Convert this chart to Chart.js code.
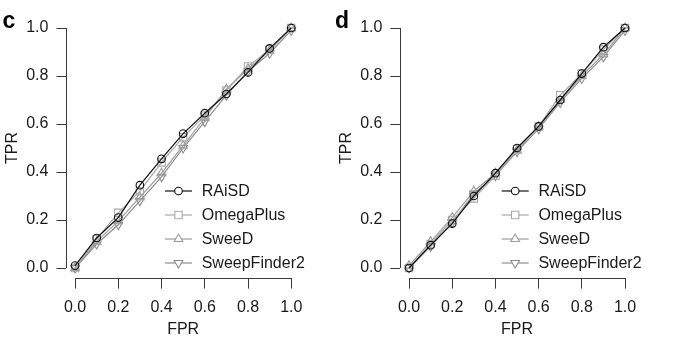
<!DOCTYPE html>
<html>
<head>
<meta charset="utf-8">
<script src="https://cdn.jsdelivr.net/npm/chart.js@4.4.1/dist/chart.umd.min.js"></script>
<style>
    html, body { margin: 0; padding: 0; background: #fff; }
    #wrap { position: relative; width: 690px; height: 341px; overflow: hidden; }
    #wrap canvas { position: absolute; top: 0; }
</style>
</head>
<body>
<div id="wrap">
    <canvas id="panelC" width="345" height="341" style="left:0px"></canvas>
    <canvas id="panelD" width="356" height="341" style="left:334px"></canvas>
</div>
<script>
// ROC curves, TPR vs FPR, markers every 0.1
const FPR = [0.0, 0.1, 0.2, 0.3, 0.4, 0.5, 0.6, 0.7, 0.8, 0.9, 1.0];
const TICKS = [0.0, 0.2, 0.4, 0.6, 0.8, 1.0];
const METHODS = ['RAiSD', 'OmegaPlus', 'SweeD', 'SweepFinder2'];

// panel c
const raisdC        = [0.01, 0.125, 0.21, 0.345, 0.455, 0.56, 0.645, 0.725, 0.815, 0.915, 1.0];
const omegaPlusC    = [0.0, 0.12, 0.23, 0.32, 0.44, 0.545, 0.635, 0.74, 0.84, 0.91, 1.0];
const sweeDC        = [0.0, 0.11, 0.195, 0.295, 0.395, 0.51, 0.625, 0.745, 0.83, 0.905, 1.0];
const sweepFinder2C = [0.0, 0.10, 0.18, 0.28, 0.38, 0.50, 0.61, 0.72, 0.82, 0.895, 0.99];

// panel d
const raisdD        = [0.0, 0.095, 0.185, 0.30, 0.395, 0.50, 0.59, 0.70, 0.81, 0.92, 1.0];
const omegaPlusD    = [0.0, 0.10, 0.20, 0.29, 0.385, 0.495, 0.59, 0.72, 0.81, 0.91, 1.0];
const sweeDD        = [0.01, 0.11, 0.21, 0.32, 0.395, 0.49, 0.59, 0.70, 0.80, 0.89, 1.0];
const sweepFinder2D = [0.0, 0.09, 0.19, 0.31, 0.385, 0.485, 0.58, 0.69, 0.79, 0.88, 0.99];

const FAMILY = '"Liberation Sans", Arial, Helvetica, sans-serif';
const FONT = { family: FAMILY, size: 16 };
const TEXT = '#1a1a1a';
const AXIS = '#3a3a3a';

const STYLE = {
    RAiSD:        { color: '#111111', point: 'circle',   radius: 3.8, rot: 0 },
    OmegaPlus:    { color: '#a8a8a8', point: 'rect',     radius: 5.2, rot: 0 },
    SweeD:        { color: '#9c9c9c', point: 'triangle', radius: 5.0, rot: 0 },
    SweepFinder2: { color: '#8e8e8e', point: 'triangle', radius: 5.0, rot: 180 },
};

// R-style decorations: axis lines only over 0..1, panel letter, legend
const panelDecor = {
    id: 'panelDecor',
    afterDraw(chart, args, opts) {
        const { ctx, chartArea, scales: { x, y } } = chart;
        ctx.save();
        ctx.strokeStyle = AXIS;
        ctx.lineWidth = 1;
        ctx.beginPath();
        ctx.moveTo(x.getPixelForValue(0), Math.round(chartArea.bottom) + 0.5);
        ctx.lineTo(x.getPixelForValue(1), Math.round(chartArea.bottom) + 0.5);
        ctx.moveTo(Math.round(chartArea.left) + 0.5, y.getPixelForValue(0));
        ctx.lineTo(Math.round(chartArea.left) + 0.5, y.getPixelForValue(1));
        ctx.stroke();

        // legend: line, marker in the middle, label
        const lx = chartArea.left + opts.legendLeft;
        chart.data.datasets.forEach((ds, i) => {
            const ly = opts.legendTop + i * opts.legendStep;
            ctx.strokeStyle = ds.borderColor;
            ctx.lineWidth = ds.borderWidth;
            ctx.beginPath();
            ctx.moveTo(lx, ly);
            ctx.lineTo(lx + 27, ly);
            ctx.stroke();
            ctx.fillStyle = '#ffffff';
            ctx.strokeStyle = ds.pointBorderColor;
            ctx.lineWidth = ds.pointBorderWidth;
            Chart.helpers.drawPoint(ctx, {
                pointStyle: ds.pointStyle,
                rotation: ds.pointRotation,
                radius: ds.pointRadius,
                borderWidth: ds.pointBorderWidth,
            }, lx + 13.5, ly);
            ctx.fillStyle = TEXT;
            ctx.font = '16px ' + FAMILY;
            ctx.textAlign = 'left';
            ctx.textBaseline = 'middle';
            ctx.fillText(ds.label, lx + 36.7, ly + 1);
        });

        // panel letter
        ctx.fillStyle = '#000';
        ctx.font = 'bold 23px ' + FAMILY;
        ctx.textAlign = 'left';
        ctx.textBaseline = 'alphabetic';
        ctx.fillText(opts.letter, opts.letterX, 28);
        ctx.restore();
    }
};

function makePanel(canvasId, letter, letterX, series, legendLeft, rightPad) {
    const datasets = METHODS.map((m, i) => {
        const s = STYLE[m];
        return {
            label: m,
            data: FPR.map((f, k) => ({ x: f, y: series[i][k] })),
            borderColor: s.color,
            borderWidth: 1.2,
            pointStyle: s.point,
            pointRadius: s.radius,
            pointRotation: s.rot,
            pointBorderColor: s.color,
            pointBorderWidth: 1.1,
            pointBackgroundColor: 'rgba(0,0,0,0)',
            fill: false,
            tension: 0,
        };
    });

    const tickList = axis => { axis.ticks = TICKS.map(v => ({ value: v })); };

    new Chart(document.getElementById(canvasId), {
        type: 'line',
        data: { datasets },
        options: {
            responsive: false,
            animation: false,
            events: [],
            layout: { padding: { left: 0, top: 18.4, right: rightPad, bottom: 0 } },
            plugins: {
                legend: { display: false },
                tooltip: { enabled: false },
                panelDecor: { letter, letterX, legendLeft, legendTop: 191, legendStep: 24 },
            },
            scales: {
                x: {
                    type: 'linear',
                    min: -0.04,
                    max: 1.04,
                    afterBuildTicks: tickList,
                    afterFit: axis => { axis.height = 63.4; },
                    border: { display: false },
                    grid: { drawOnChartArea: false, drawTicks: true, tickLength: 11, color: AXIS },
                    ticks: { font: FONT, color: TEXT, padding: 9, maxRotation: 0, autoSkip: false,
                             callback: v => v.toFixed(1) },
                    title: { display: true, text: 'FPR', font: FONT, color: TEXT, padding: { top: 0, bottom: 1.5 } },
                },
                y: {
                    type: 'linear',
                    min: -0.04,
                    max: 1.04,
                    afterBuildTicks: tickList,
                    afterFit: axis => { axis.width = 66.4; },
                    border: { display: false },
                    grid: { drawOnChartArea: false, drawTicks: true, tickLength: 10, color: AXIS },
                    ticks: { font: FONT, color: TEXT, padding: 8, autoSkip: false,
                             callback: v => v.toFixed(1) },
                    title: { display: true, text: 'TPR', font: FONT, color: TEXT, padding: { top: 3, bottom: 0 } },
                },
            },
        },
        plugins: [panelDecor],
    });
}

makePanel('panelC', 'c', 2.5, [raisdC, omegaPlusC, sweeDC, sweepFinder2C], 98.6, 45.1);
makePanel('panelD', 'd', 1, [raisdD, omegaPlusD, sweeDD, sweepFinder2D], 101.3, 56.35);
</script>
</body>
</html>
